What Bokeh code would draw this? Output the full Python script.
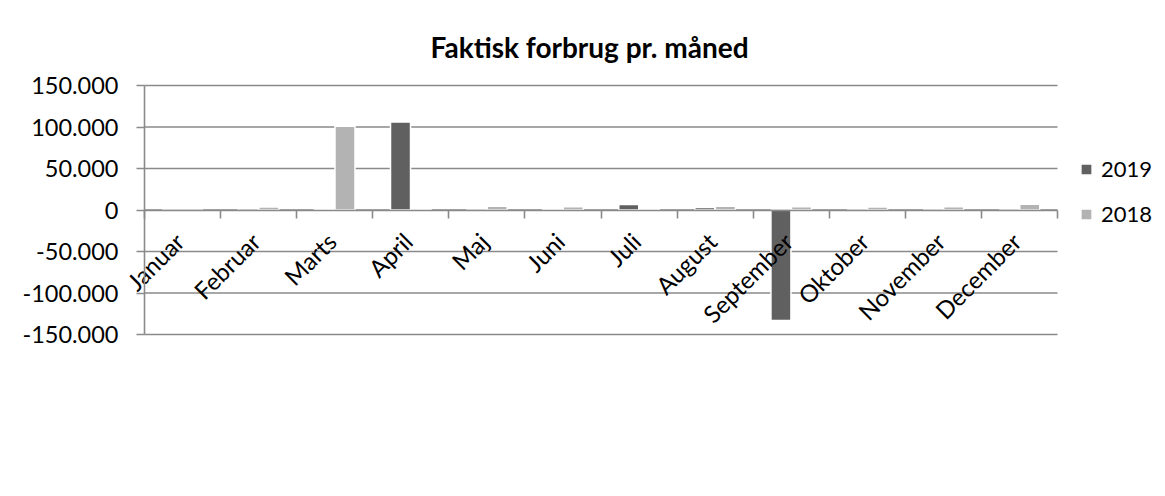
import numpy as np
from bokeh.plotting import figure
from bokeh.models import (ColumnDataSource, FixedTicker, Legend, LegendItem, Range1d)
from bokeh.transform import dodge
from bokeh.core.properties import value
from bokeh.embed import file_html
from bokeh.resources import INLINE

months = ["Januar", "Februar", "Marts", "April", "Maj", "Juni", "Juli",
          "August", "September", "Oktober", "November", "December"]
v2019 = [-300, 2000, 1500, 106000, -300, 1500, 6500, 3000, -133000, 0, 0, 0]
v2018 = [-500, 3700, 101000, 1500, 4500, 4000, 1000, 4500, 4000, 3500, 4000, 7000]
y_ticks = [-150000, -100000, -50000, 0, 50000, 100000, 150000]
y_tick_labels = ["-150.000", "-100.000", "-50.000", "0", "50.000", "100.000", "150.000"]
title_text = "Faktisk forbrug pr. måned"

FONT = "Lato"
GRID = "#8a8a8a"
C2019 = "#606060"
C2018 = "#b3b3b3"

n = len(months)
src = ColumnDataSource(dict(x=np.arange(n) + 0.5, months=months,
                            v2019=v2019, v2018=v2018))
ysrc = ColumnDataSource(dict(y=y_ticks, label=y_tick_labels))

# frame (px) is larger than the category/value area so that labels are not clipped
W, H = 1165, 496
frame_l, frame_r, frame_t, frame_b = 20, 1160, 70, 350
cat_l, cat_r = 144, 1057          # px span of the 12 categories
val_t, val_b = 85, 334            # px span of the value axis
ymin, ymax = min(y_ticks), max(y_ticks)
ppu = (cat_r - cat_l) / n
ppy = (val_b - val_t) / (ymax - ymin)
x_min = -(cat_l - frame_l) / ppu
x_max = n + (frame_r - cat_r) / ppu
y_lo = ymin - (frame_b - val_b) / ppy
y_hi = ymax + (val_t - frame_t) / ppy

p = figure(width=W, height=H, output_backend="svg", toolbar_location=None,
           x_range=Range1d(x_min, x_max), y_range=Range1d(y_lo, y_hi),
           min_border_left=frame_l, min_border_right=W - frame_r,
           min_border_top=frame_t, min_border_bottom=H - frame_b, title=title_text)
p.outline_line_color = None
p.background_fill_color = "white"
p.border_fill_color = "white"

p.title.text_font = FONT
p.title.text_font_size = "28px"
p.title.text_font_style = "bold"
p.title.align = "left"
p.title.offset = 430 - frame_l
p.title.standoff = 14
p.title.text_color = "black"

# grid (limited to the category span)
p.xgrid.visible = False
p.ygrid.visible = False
p.segment(x0=0, x1=n, y0=y_ticks, y1=y_ticks, line_color=GRID, line_width=1.6)

# y axis drawn at x = 0 (labels drawn as text next to it)
p.yaxis.fixed_location = 0
p.yaxis.bounds = (ymin, ymax)
p.yaxis.ticker = FixedTicker(ticks=y_ticks)
p.yaxis.major_label_overrides = {t: "" for t in y_ticks}
p.yaxis.major_label_standoff = 0
p.yaxis.axis_line_color = GRID
p.yaxis.axis_line_width = 1.6
p.yaxis.major_tick_line_color = GRID
p.yaxis.major_tick_line_width = 1.6
p.yaxis.major_tick_out = 8
p.yaxis.major_tick_in = 0
p.yaxis.minor_tick_line_color = None

p.text(x=0, y="y", text="label", source=ysrc, x_offset=-26,
       text_align="right", text_baseline="middle",
       text_font=value(FONT), text_font_size="23.5px", text_color="black")

# x axis at zero line, ticks at category boundaries
p.xaxis.fixed_location = 0
p.xaxis.bounds = (0, n)
p.xaxis.ticker = FixedTicker(ticks=list(range(n + 1)))
p.xaxis.major_label_overrides = {i: "" for i in range(n + 1)}
p.xaxis.axis_line_color = GRID
p.xaxis.axis_line_width = 1.6
p.xaxis.major_tick_line_color = GRID
p.xaxis.major_tick_line_width = 1.6
p.xaxis.major_tick_out = 8
p.xaxis.major_tick_in = 0
p.xaxis.minor_tick_line_color = None

bw = 0.263
r19 = p.vbar(x=dodge("x", -0.135), top="v2019", bottom=0, width=bw, source=src,
             fill_color=C2019, line_color="white", line_width=1.5)
r18 = p.vbar(x=dodge("x", 0.135), top="v2018", bottom=0, width=bw, source=src,
             fill_color=C2018, line_color="white", line_width=1.5)

# rotated month labels at the zero line
p.text(x="x", y=0, text="months", source=src, angle=np.pi / 4,
       text_align="right", text_baseline="middle", x_offset=-3, y_offset=27,
       text_font=value(FONT), text_font_size="24px", text_color="black")

legend = Legend(items=[LegendItem(label="2019", renderers=[r19]),
                       LegendItem(label="2018", renderers=[r18])],
                location=(1079 - frame_l, 107 + (frame_b - val_b)), padding=0,
                margin=0, spacing=18,
                glyph_width=14, glyph_height=14, label_height=22,
                label_standoff=8, label_text_font=FONT,
                label_text_font_size="22px", label_text_color="black",
                border_line_alpha=0, background_fill_alpha=0)
p.add_layout(legend)

open("out.html", "w").write(file_html(p, INLINE))
